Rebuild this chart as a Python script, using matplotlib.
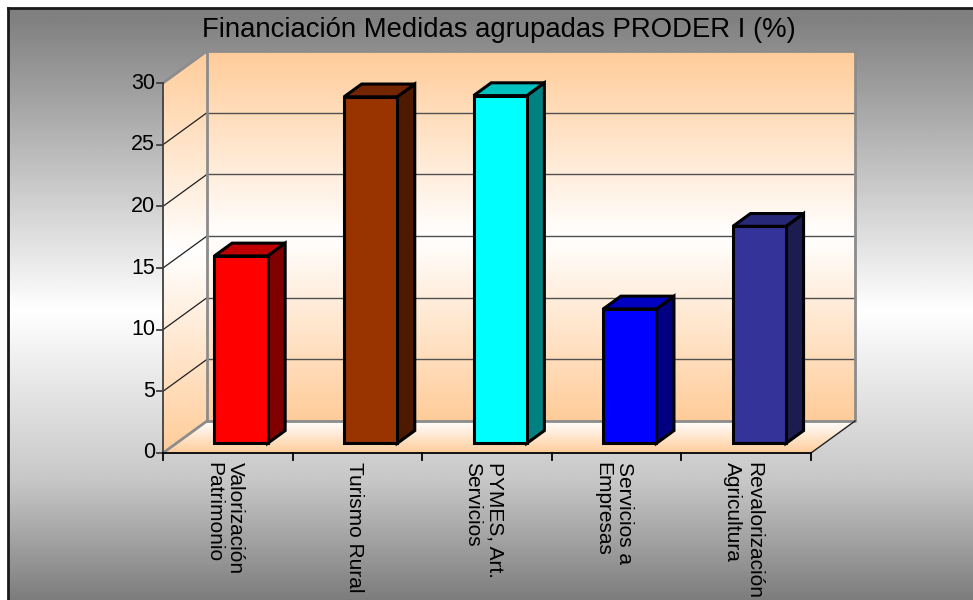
import numpy as np
import matplotlib.pyplot as plt
from matplotlib.colors import LinearSegmentedColormap
from matplotlib.patches import Polygon, Rectangle

title = "Financiación Medidas agrupadas PRODER I (%)"
categories = ["Valorización\nPatrimonio", "Turismo Rural", "PYMES, Art.\nServicios",
              "Servicios a\nEmpresas", "Revalorización\nAgricultura"]
values = [15.2, 28.1, 28.2, 10.9, 17.6]
yticks = [0, 5, 10, 15, 20, 25, 30]

front_colors = ['#ff0000', '#993300', '#00ffff', '#0000ff', '#333399']
top_colors = ['#c00000', '#732600', '#00c0c0', '#0000c0', '#282878']
side_colors = ['#800000', '#4d1a00', '#008080', '#000080', '#1c1c50']

plt.rcParams['font.family'] = ['Liberation Sans', 'DejaVu Sans']

W, H = 973, 600
fig = plt.figure(figsize=(W / 100, H / 100), dpi=100)
fig.patch.set_facecolor('white')
ax = fig.add_axes([0, 0, 1, 1])
ax.axis('off')

# one category = 129.6 px, one unit = 12.333 px, front origin at (163, 453) px
cw, uh = 129.6, 12.333
x0px, y0px = 163, 453
xmin, xmax = -x0px / cw, (W - x0px) / cw
ymin, ymax = (y0px - H) / uh, y0px / uh
ax.set_xlim(xmin, xmax)
ax.set_ylim(ymin, ymax)

n = len(values)
vmax = yticks[-1]
DX, DY = 44 / cw, 32 / uh          # wall depth
d0, bd, bw = 0.3, 0.4, 0.41        # bar depth start, bar depth, bar width

# gray background of the chart area
rows = np.linspace(0, H, 300)
shade = np.interp(rows, [8, 300, 470, 600], [0.50, 1.0, 0.78, 0.46])
bg = np.repeat(shade[:, None], 2, axis=1)
gray = LinearSegmentedColormap.from_list('g', ['black', 'white'])
ax.imshow(bg, cmap=gray, vmin=0, vmax=1, aspect='auto', interpolation='bilinear',
          extent=[xmin + 8 / cw, xmax + 0.1, ymin - 1, ymax - 8 / uh], zorder=0)
ax.plot([xmin + 8 / cw, xmin + 8 / cw], [ymin - 1, ymax - 8 / uh], color='#1a1a1a', lw=2, zorder=1)
ax.plot([xmin + 8 / cw, xmax + 1], [ymax - 8 / uh] * 2, color='#1a1a1a', lw=2, zorder=1)

peach = LinearSegmentedColormap.from_list('p', ['#ffcc99', '#ffffff', '#ffcc99'])
peach2 = LinearSegmentedColormap.from_list('p2', ['#ffcc99', '#ffffff'])
grad = np.linspace(0, 1, 256)[:, None]

# back wall
back = Polygon([(DX, DY), (n + DX, DY), (n + DX, vmax + DY), (DX, vmax + DY)],
               closed=True, facecolor='none', edgecolor='none')
ax.add_patch(back)
im = ax.imshow(grad, cmap=peach, aspect='auto', interpolation='bilinear',
               extent=[DX, n + DX, DY, vmax + DY], origin='lower', zorder=2)
im.set_clip_path(back)

# side wall
side = Polygon([(0, 0), (DX, DY), (DX, vmax + DY), (0, vmax)], closed=True,
               facecolor='none', edgecolor='none')
ax.add_patch(side)
im = ax.imshow(grad, cmap=peach, aspect='auto', interpolation='bilinear',
               extent=[0, DX, 0, vmax + DY], origin='lower', zorder=2)
im.set_clip_path(side)

# floor
floor = Polygon([(0, 0), (n, 0), (n + DX, DY), (DX, DY)], closed=True,
                facecolor='none', edgecolor='none')
ax.add_patch(floor)
im = ax.imshow(grad, cmap=peach2, aspect='auto', interpolation='bilinear',
               extent=[0, n + DX, 0, DY], origin='lower', zorder=2)
im.set_clip_path(floor)

# gridlines
for v in yticks[1:-1]:
    ax.plot([DX, n + DX], [v + DY, v + DY], color='#505050', lw=1, zorder=3)
    ax.plot([0, DX], [v, v + DY], color='#202020', lw=0.9, zorder=3)

# wall edges
edge = dict(color='#8c8c8c', lw=2, zorder=3, solid_capstyle='projecting')
ax.plot([DX, n + DX, n + DX, DX, DX], [DY, DY, vmax + DY, vmax + DY, DY], **edge)
ax.plot([0, DX], [vmax, vmax + DY], **edge)
ax.plot([0, DX], [0, DY], **edge)
ax.plot([n, n + DX], [0, DY], color='#202020', lw=1, zorder=3)

# bars
for i, (v, fc, tc, sc) in enumerate(zip(values, front_colors, top_colors, side_colors)):
    x = i + (1 - bw) / 2 + d0 * DX
    y = d0 * DY
    ox, oy = bd * DX, bd * DY
    kw = dict(edgecolor='black', lw=2.2, joinstyle='miter', zorder=5)
    ax.add_patch(Polygon([(x + bw, y), (x + bw + ox, y + oy), (x + bw + ox, y + oy + v),
                          (x + bw, y + v)], closed=True, facecolor=sc, **kw))
    ax.add_patch(Polygon([(x, y + v), (x + bw, y + v), (x + bw + ox, y + v + oy),
                          (x + ox, y + v + oy)], closed=True, facecolor=tc, **kw))
    ax.add_patch(Rectangle((x, y), bw, v, facecolor=fc, **kw))

# front axes
ax.plot([0, 0], [0, vmax], color='#404040', lw=1.3, zorder=4)
ax.plot([0, n], [0, 0], color='black', lw=1.3, zorder=4)
for v in yticks:
    ax.plot([-6 / cw, 0], [v, v], color='#404040', lw=1.3, zorder=4)
    ax.text(-8 / cw, v, str(v), ha='right', va='center', fontsize=15.5, color='black', zorder=6)
for i in range(n + 1):
    ax.plot([i, i], [0, -7 / uh], color='black', lw=1.3, zorder=4)
for i, lab in enumerate(categories):
    ax.text(i + 0.5 - 3 / cw, -9 / uh, lab, rotation=270, ha='center', va='top',
            multialignment='left', fontsize=15, linespacing=1.2, color='black', zorder=6)

ax.text((499 - x0px) / cw, (y0px - 37) / uh, title, ha='center', va='baseline',
        fontsize=19.8, color='black', zorder=6)

fig.savefig('out.png', dpi=100)
